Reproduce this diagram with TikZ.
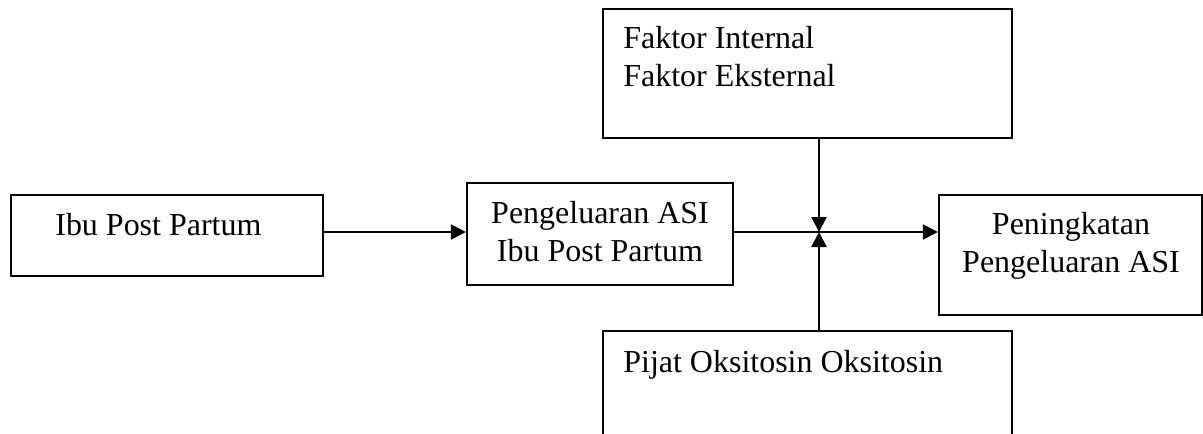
\documentclass[tikz,border=0pt]{standalone}
\usepackage{fontspec}
\setmainfont{Liberation Serif}
\usetikzlibrary{arrows.meta}
\tikzset{
  box/.style={draw, line width=1.3pt, inner sep=0pt},
  txt/.style={inner sep=0pt, font=\fontsize{18.2pt}{21.3pt}\selectfont},
  arr/.style={line width=1.3pt, -{Triangle[length=0.3cm, width=0.3cm]}}
}
\begin{document}
\begin{tikzpicture}[x=0.02cm, y=-0.02cm]
    \clip (0,0) rectangle (1203,433);
    \fill[white] (0,0) rectangle (1203,433);
    \node[box, minimum width=6.24cm, minimum height=1.62cm] (ibu) at (167,235.5) {};
    \node[box, minimum width=5.32cm, minimum height=2.04cm] (keluar) at (600,234) {};
    \node[box, minimum width=8.18cm, minimum height=2.58cm] (faktor) at (807.5,73.5) {};
    \node[box, minimum width=5.26cm, minimum height=2.4cm] (tingkat) at (1070.5,255) {};
    \node[box, minimum width=8.18cm, minimum height=2.58cm] (pijat) at (807.5,395.5) {};
    \node[txt, anchor=base west] (ibutxt) at (55,235) {Ibu Post Partum};
    \node[txt, anchor=base, align=center] (keluartxt) at (600,261) {Pengeluaran ASI\\Ibu Post Partum};
    \node[txt, anchor=base west, align=left] (faktortxt) at (623,86) {Faktor Internal\\Faktor Eksternal};
    \node[txt, anchor=base, align=center] (tingkattxt) at (1071,272) {Peningkatan\\Pengeluaran ASI};
    \node[txt, anchor=base west] (pijattxt) at (623,372) {Pijat Oksitosin Oksitosin};
    \coordinate (j) at (819,232);
    \draw[arr] (ibu.east |- j) -- (keluar.west |- j);
    \draw[arr] (keluar.east |- j) -- (tingkat.west |- j);
    \draw[arr] (faktor.south -| j) -- (j);
    \draw[arr] (pijat.north -| j) -- (j);
\end{tikzpicture}
\end{document}
